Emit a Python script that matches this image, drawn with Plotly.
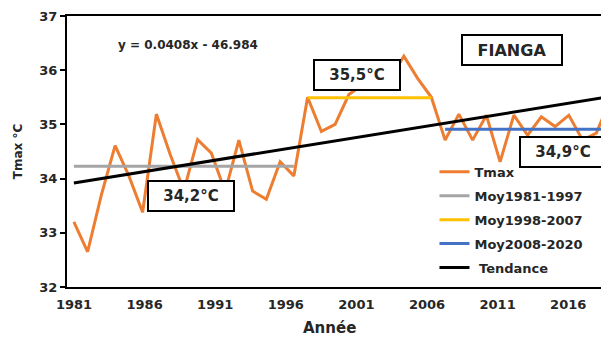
import plotly.graph_objects as go

# ---- data ----
years = list(range(1981, 2021))
tmax = [33.20, 32.65, 33.70, 34.61, 34.05, 33.38, 35.19, 34.45, 33.78, 34.72,
        34.47, 33.76, 34.71, 33.77, 33.62, 34.31, 34.05, 35.50, 34.87, 35.00,
        35.55, 35.73, 35.71, 35.83, 36.26, 35.85, 35.50, 34.71, 35.19, 34.71,
        35.17, 34.31, 35.17, 34.80, 35.14, 34.96, 35.17, 34.71, 34.84, 35.45]

period1_years = list(range(1981, 1998))
period1_mean = 34.23
period2_years = list(range(1998, 2008))
period2_mean = 35.49
period3_years = list(range(2008, 2021))
period3_mean = 34.91

trend_slope = 0.04084
trend_intercept = -46.984
trend_label = "y = 0.0408x - 46.984"

tick_years = [1981, 1986, 1991, 1996, 2001, 2006, 2011, 2016]

box_labels = ["34,2°C", "35,5°C", "34,9°C"]
box_x = [1989.5, 2001.6, 2016.6]
box_y = [33.67, 35.91, 34.50]

FONT = "DejaVu Sans"

fig = go.Figure()

fig.add_trace(go.Scatter(x=years, y=tmax, mode="lines", name="Tmax",
                         line=dict(color="#ED7D31", width=3), legendgroup="g1"))
fig.add_trace(go.Scatter(x=period1_years, y=[period1_mean] * len(period1_years), mode="lines",
                         name="Moy1981-1997", line=dict(color="#A5A5A5", width=3), legendgroup="g2"))
fig.add_trace(go.Scatter(x=period2_years, y=[period2_mean] * len(period2_years), mode="lines",
                         name="Moy1998-2007", line=dict(color="#FFC000", width=3), legendgroup="g3"))
fig.add_trace(go.Scatter(x=period3_years, y=[period3_mean] * len(period3_years), mode="lines",
                         name="Moy2008-2020", line=dict(color="#4472C4", width=3), legendgroup="g4"))
fig.add_trace(go.Scatter(x=years, y=[trend_slope * yr + trend_intercept for yr in years], mode="lines",
                         name=" Tendance", line=dict(color="#000000", width=3), legendgroup="g5"))
# empty trace that carries the year-label axis (labels in the reference are spaced a bit wider)
fig.add_trace(go.Scatter(x=[], y=[], xaxis="x2", showlegend=False, hoverinfo="skip"))

annotations = []
for t, bx, by in zip(box_labels, box_x, box_y):
    annotations.append(dict(x=bx, y=by, xref="x", yref="y", text=t, showarrow=False,
                            font=dict(family=FONT, size=15, color="#262626", weight="bold"),
                            bgcolor="white", bordercolor="black", borderwidth=2,
                            borderpad=1, width=82, height=26))
annotations.append(dict(x=2012.9, y=36.37, xref="x", yref="y", text="FIANGA", showarrow=False,
                        font=dict(family=FONT, size=16, color="#262626", weight="bold"),
                        bgcolor="white", bordercolor="black", borderwidth=2,
                        borderpad=1, width=96, height=26))
annotations.append(dict(x=1989.3, y=36.47, xref="x", yref="y", text=trend_label, showarrow=False,
                        font=dict(family=FONT, size=12, color="#262626", weight="bold")))
# x-axis title
annotations.append(dict(x=0.485, y=-0.151, xref="paper", yref="paper", text="Année",
                        showarrow=False, xanchor="center", yanchor="middle",
                        font=dict(family=FONT, size=15, color="#262626", weight="bold")))

# the page body has an 8px margin, so the figure is sized to fill the rest of the window
fig.update_layout(
    width=601, height=331,
    margin=dict(l=59, r=0, t=8, b=52),
    paper_bgcolor="white", plot_bgcolor="white",
    font=dict(family=FONT, size=13, color="#262626"),
    showlegend=True,
    legend=dict(x=0.678, y=0.480, xanchor="left", yanchor="top",
                bgcolor="rgba(0,0,0,0)", tracegroupgap=4,
                font=dict(family=FONT, size=13, color="#262626", weight="bold")),
    annotations=annotations,
    xaxis=dict(range=[1980.5, 2019.92], showticklabels=False,
               automargin=False,
               showgrid=False, zeroline=False, showline=True, linecolor="black",
               linewidth=2, mirror=True, ticks=""),
    xaxis2=dict(overlaying="x", side="bottom", range=[1980.504, 2018.889],
                tickmode="array", tickvals=tick_years, automargin=False,
                showgrid=False, zeroline=False, showline=False, ticks="",
                ticklabelstandoff=8,
                tickfont=dict(family=FONT, size=13, color="#262626", weight="bold")),
    yaxis=dict(range=[32, 37], dtick=1, showgrid=False, zeroline=False, showline=True,
               automargin=False,
               linecolor="black", linewidth=2, ticks="outside", ticklen=5, tickcolor="black",
               tickwidth=1.5,
               tickfont=dict(family=FONT, size=13, color="#262626", weight="bold"),
               title=dict(text="Tmax °C", standoff=14,
                          font=dict(family=FONT, size=12, color="#262626", weight="bold"))),
)

fig.write_html("out.html")
